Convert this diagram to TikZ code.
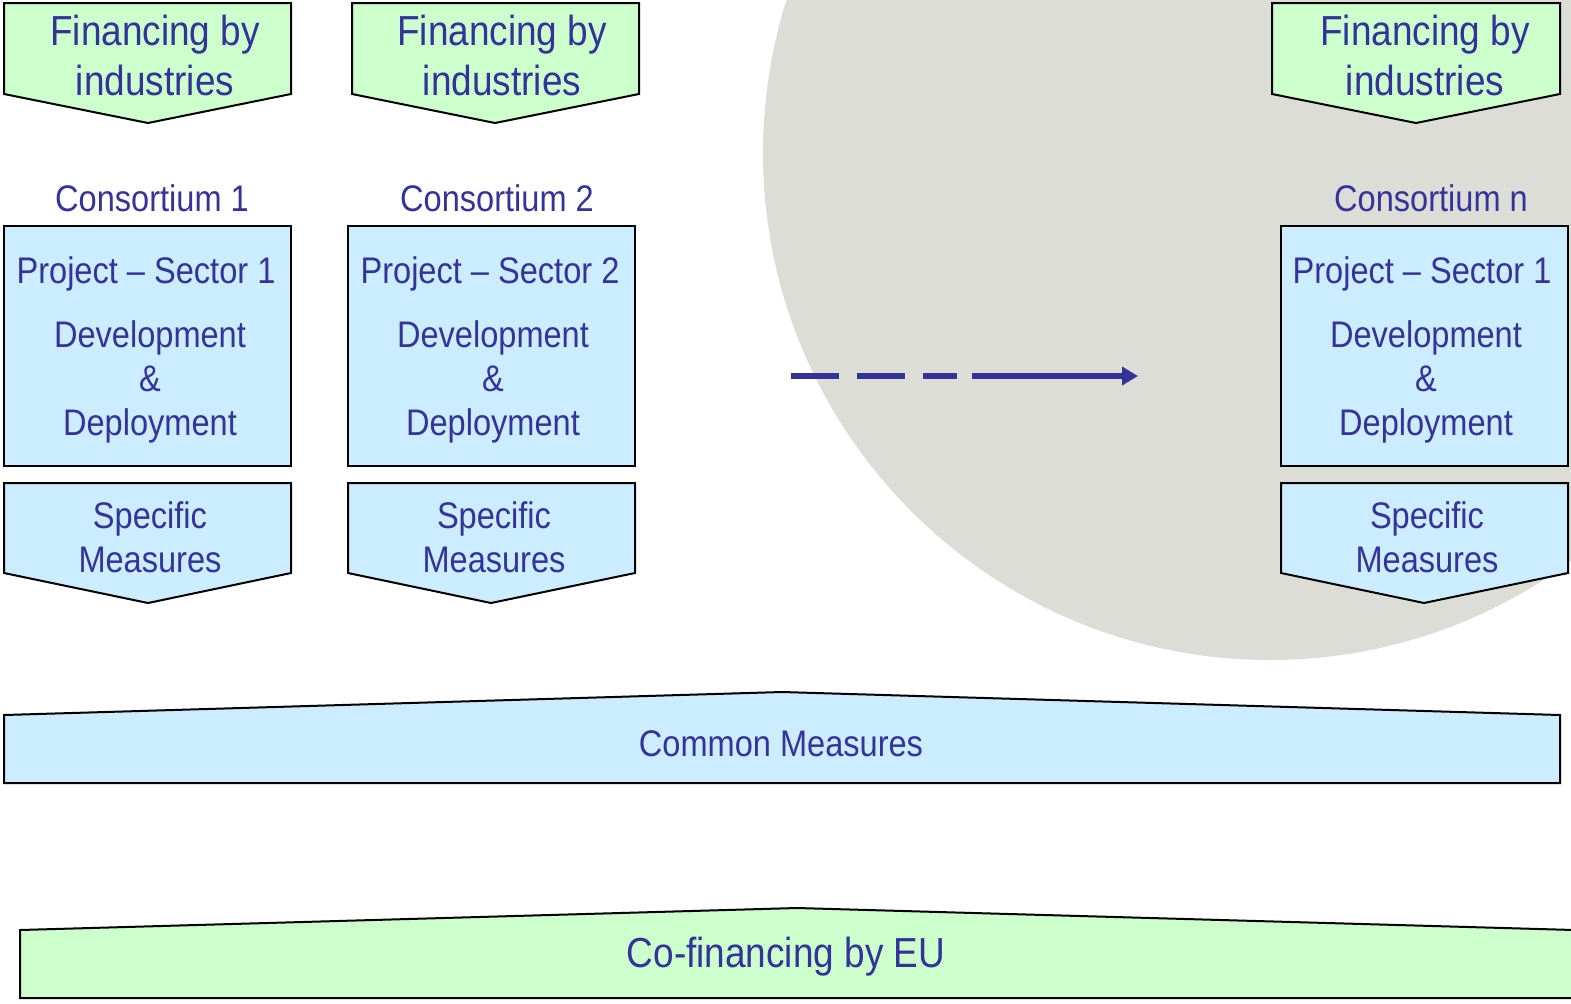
\documentclass[tikz,border=0pt]{standalone}
\usepackage{fontspec}
\setmainfont{Liberation Sans}[FakeStretch=0.88]
\usetikzlibrary{arrows.meta}
\definecolor{txt}{HTML}{333399}
\definecolor{gfill}{HTML}{CCFFCC}
\definecolor{bfill}{HTML}{CCECFF}
\definecolor{disc}{HTML}{DDDDD8}
\tikzset{
 shapebox/.style={draw=black, line width=1pt, line join=miter},
 lbl/.style={text=txt, align=center, inner sep=0pt, font=\fontsize{18.5pt}{22pt}\selectfont},
 biglbl/.style={text=txt, align=center, inner sep=0pt, font=\fontsize{21pt}{25pt}\selectfont},
}
\begin{document}
\begin{tikzpicture}[x=0.5pt,y=-0.5pt]
\useasboundingbox (0,0) rectangle (1571,1003);
\clip (0,0) rectangle (1571,1003);
\fill[disc] (1270,153) circle[radius=253.5pt];
% Financing by industries
\draw[shapebox, fill=gfill] (4,3) -- (291,3) -- (291,94) -- (148,123) -- (4,94) -- cycle;
\draw[shapebox, fill=gfill] (352,3) -- (639,3) -- (639,94) -- (495,123) -- (352,94) -- cycle;
\draw[shapebox, fill=gfill] (1272,3) -- (1560,3) -- (1560,94) -- (1416,123) -- (1272,94) -- cycle;
\node[biglbl] (fin1) at (155,55) {Financing by\\industries};
\node[biglbl] (fin2) at (502,55) {Financing by\\industries};
\node[biglbl] (finn) at (1425,55) {Financing by\\industries};
% Consortium labels
\node[lbl] (con1) at (152,198) {Consortium 1};
\node[lbl] (con2) at (497,198) {Consortium 2};
\node[lbl] (conn) at (1431,198) {Consortium n};
% Project boxes
\draw[shapebox, fill=bfill] (4,226) rectangle (291,466);
\draw[shapebox, fill=bfill] (348,226) rectangle (635,466);
\draw[shapebox, fill=bfill] (1281,226) rectangle (1568,466);
\node[lbl] (p1) at (146,274) {Project – Sector 1};
\node[lbl] (p2) at (490,274) {Project – Sector 2};
\node[lbl] (pn) at (1422,274) {Project – Sector 1};
\node[lbl] (d1) at (150,382) {Development\\\&\\Deployment};
\node[lbl] (d2) at (493,382) {Development\\\&\\Deployment};
\node[lbl] (dn) at (1426,382) {Development\\\&\\Deployment};
% Specific measures
\draw[shapebox, fill=bfill] (4,483) -- (291,483) -- (291,573) -- (148,603) -- (4,573) -- cycle;
\draw[shapebox, fill=bfill] (348,483) -- (635,483) -- (635,573) -- (491,603) -- (348,573) -- cycle;
\draw[shapebox, fill=bfill] (1281,483) -- (1568,483) -- (1568,573) -- (1424,603) -- (1281,573) -- cycle;
\node[lbl] (s1) at (150,537) {Specific\\Measures};
\node[lbl] (s2) at (494,537) {Specific\\Measures};
\node[lbl] (sn) at (1427,537) {Specific\\Measures};
% arrow
\coordinate (a0) at (791,376);
\coordinate (a1) at (1138,376);
\draw[txt, line width=3pt, dash pattern=on 24pt off 9pt on 24pt off 9pt on 17pt off 7.5pt on 200pt,
  -{Triangle[length=8pt,width=9pt]}] (a0) -- (a1);
% Common measures
\draw[shapebox, fill=bfill] (4,783) -- (4,715) -- (782,692) -- (1560,715) -- (1560,783) -- cycle;
\node[lbl] (cm) at (781,744) {Common Measures};
% Co-financing by EU
\draw[shapebox, fill=gfill] (20,998) -- (20,930) -- (797,908) -- (1574,930) -- (1574,998) -- cycle;
\node[biglbl] (eu) at (786,957) {Co-financing by EU};
\end{tikzpicture}
\end{document}
